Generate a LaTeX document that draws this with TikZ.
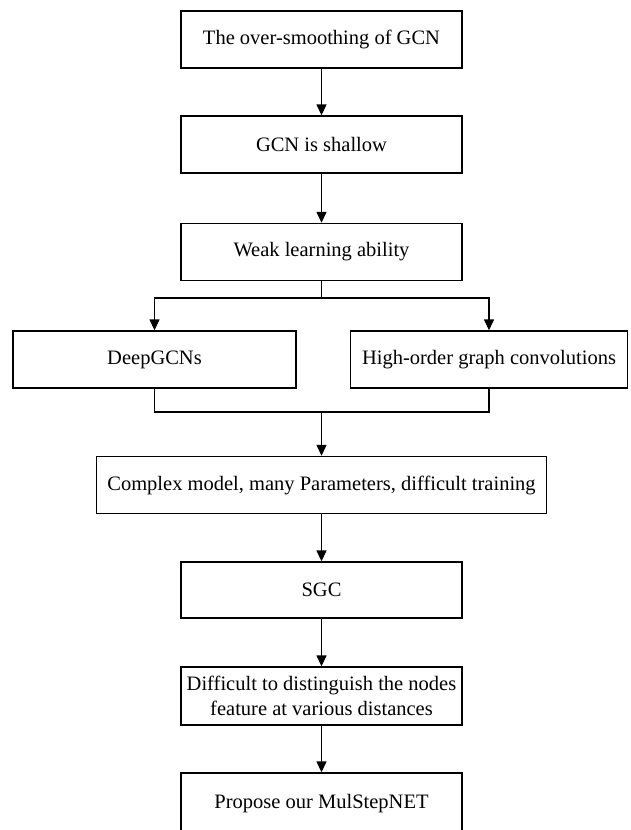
\documentclass[tikz,border=0pt]{standalone}
\usepackage{fontspec}
\setmainfont{Liberation Serif}
\usetikzlibrary{arrows.meta}

\begin{document}
\begin{tikzpicture}[x=1pt,y=-1pt,
  procbox/.style={draw=black, line width=1.4pt, minimum width=281pt, minimum height=57pt, inner sep=0pt, align=center, font=\fontsize{20.5}{25}\selectfont},
  flow/.style={line width=1.4pt, -{Triangle[length=11pt,width=10pt]}},
  link/.style={line width=1.4pt}]
\useasboundingbox (0,0) rectangle (631,830);
% main chain
\node[procbox] (oversmooth) at (321.5,39.5) {The over-smoothing of GCN};
\node[procbox] (shallow) at (321.5,144.5) {GCN is shallow};
\node[procbox] (weak) at (321.5,252) {Weak learning ability};
% two branches
\node[procbox, minimum width=283pt] (deepgcn) at (154.5,359.5) {DeepGCNs};
\node[procbox, minimum width=277pt] (highorder) at (489,359.5) {High-order graph convolutions};
\node[procbox, minimum width=450pt] (complex) at (321.5,485) {Complex model, many Parameters, difficult training};
\node[procbox, minimum height=56pt] (sgc) at (321.5,590) {SGC};
\node[procbox, minimum height=58pt] (distinguish) at (321.5,696) {Difficult to distinguish the nodes\\feature at various distances};
\node[procbox, minimum height=62pt] (propose) at (321.5,804) {Propose our MulStepNET};
\coordinate (split) at (321.5,298);
\coordinate (merge) at (321.5,412);
% connectors
\draw[flow] (oversmooth) -- (shallow);
\draw[flow] (shallow) -- (weak);
\draw[link] (weak) -- (split);
\draw[flow] (split) -| (deepgcn.north);
\draw[flow] (split) -| (highorder.north);
\draw[link] (deepgcn.south) |- (merge);
\draw[link] (highorder.south) |- (merge);
\draw[flow] (merge) -- (complex);
\draw[flow] (complex) -- (sgc);
\draw[flow] (sgc) -- (distinguish);
\draw[flow] (distinguish) -- (propose);
\end{tikzpicture}
\end{document}
